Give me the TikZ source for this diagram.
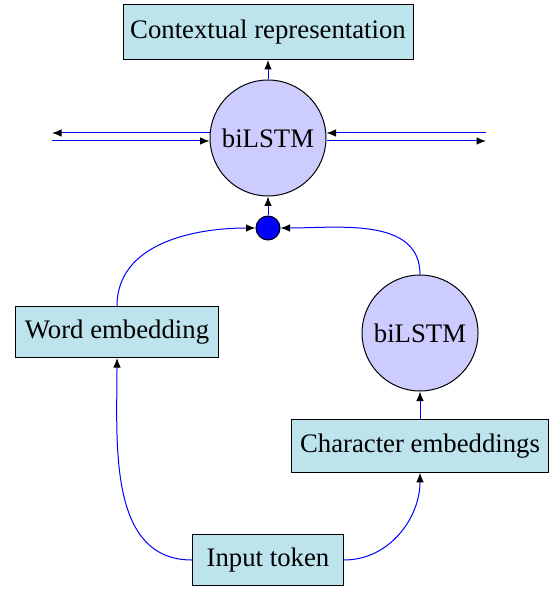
\documentclass[tikz,border=0pt]{standalone}
\usepackage{fontspec}
\setmainfont{Liberation Serif}
\usetikzlibrary{arrows.meta}
\definecolor{boxfill}{RGB}{189,227,237}
\definecolor{circfill}{RGB}{204,204,255}
\begin{document}
\begin{tikzpicture}[x=0.4pt,y=-0.4pt,
  box/.style={draw=black,fill=boxfill,rectangle,inner sep=0pt,font=\fontsize{10.7}{12}\selectfont},
  lstm/.style={draw=black,fill=circfill,circle,minimum size=46.4pt,inner sep=0pt,font=\fontsize{10.7}{12}\selectfont},
  dot/.style={draw=black,fill=blue,circle,minimum size=9.6pt,inner sep=0pt},
  conn/.style={blue,line width=0.4pt,-{Latex[black,length=3.8pt,width=3pt]}}]
\useasboundingbox (0,0) rectangle (555,590);
\node[box,minimum width=116pt,minimum height=22pt] (ctx) at (268,32) {Contextual representation};
\node[lstm] (top) at (268,138) {biLSTM};
\node[dot] (d) at (268,228) {};
\node[box,minimum width=81pt,minimum height=20.4pt] (we) at (117,332) {Word embedding};
\node[lstm] (bot) at (420,333) {biLSTM};
\node[box,minimum width=103pt,minimum height=21pt] (ce) at (420,446) {Character embeddings};
\node[box,minimum width=60.4pt,minimum height=20.4pt] (it) at (268,560) {Input token};
\coordinate (l1) at (52,133);
\coordinate (l2) at (52,141);
\coordinate (r1) at (486,133);
\coordinate (r2) at (486,141);
\draw[conn] (top.north) -- (ctx.south);
\draw[conn] (d.north) -- (top.south);
\draw[conn] (top.west |- l1) -- (l1);
\draw[conn] (l2) -- (top.west |- l2);
\draw[conn] (r1) -- (top.east |- r1);
\draw[conn] (top.east |- r2) -- (r2);
\draw[conn] (we.north) to[out=90,in=180] (d.west);
\draw[conn] (bot.north) to[out=90,in=0] (d.east);
\draw[conn] (ce.north) -- (bot.south);
\draw[conn] (it.west) to[out=180,in=-90] (we.south);
\draw[conn] (it.east) to[out=0,in=-90] (ce.south);
\end{tikzpicture}
\end{document}
